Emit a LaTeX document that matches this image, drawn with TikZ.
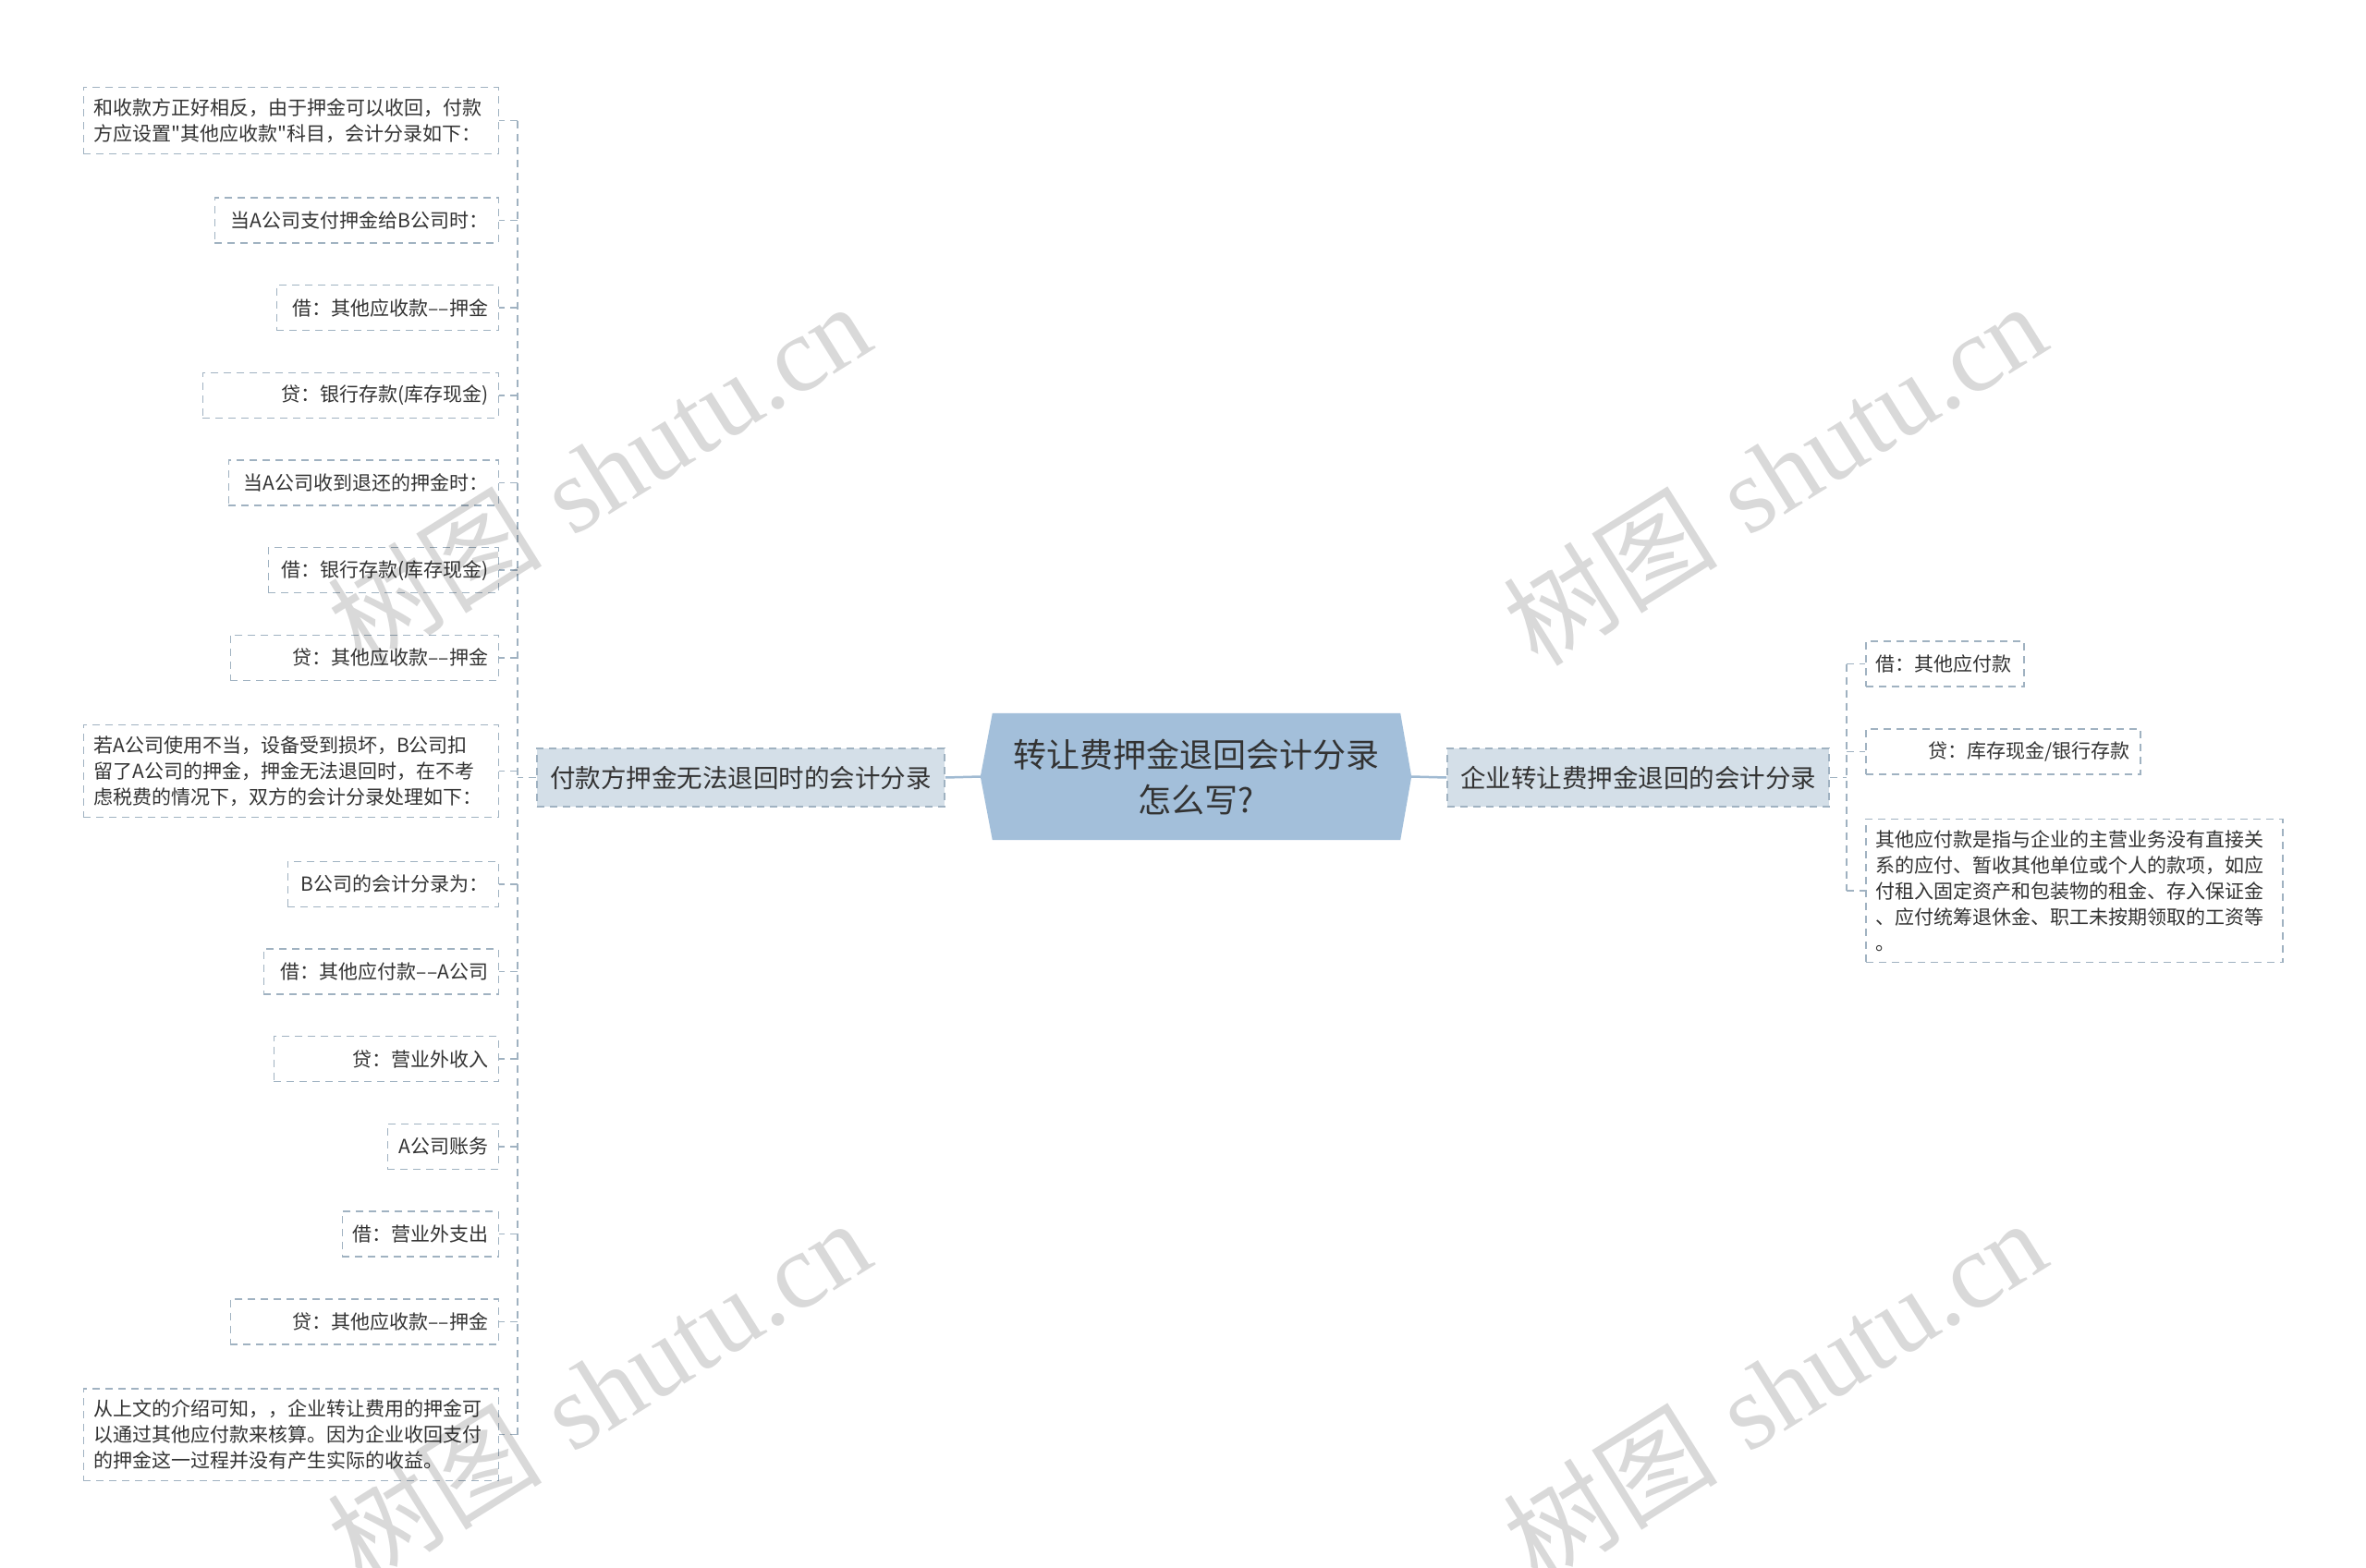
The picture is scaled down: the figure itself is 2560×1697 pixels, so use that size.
\documentclass[tikz,border=0pt]{standalone}
\usepackage{fontspec}
\newfontfamily\cjk{Noto Sans CJK SC}
\newfontfamily\wmserif{Liberation Serif}
\usetikzlibrary{calc}
\definecolor{txt}{HTML}{333333}
\definecolor{centerfill}{HTML}{A3BFDA}
\definecolor{branchfill}{HTML}{D4DFE8}
\definecolor{dashcol}{HTML}{A0B2C1}
\definecolor{solidcol}{HTML}{A0BAD2}
\begin{document}
\begin{tikzpicture}[x=1pt,y=-1pt,
  leaf/.style={draw=dashcol, line width=1.5pt, dash pattern=on 8pt off 6pt, text=txt,
    font=\cjk\fontsize{21}{28}\selectfont, inner xsep=11pt, inner ysep=12pt,
    minimum height=49pt, align=right},
  leafL/.style={leaf, anchor=east},
  leafR/.style={leaf, anchor=west},
  branch/.style={draw=dashcol, fill=branchfill, line width=1.5pt, dash pattern=on 8pt off 6pt,
    text=txt, font=\cjk\fontsize{27.5}{34}\selectfont, minimum height=63pt, inner sep=0pt},
  conn/.style={draw=dashcol, line width=1.5pt, dash pattern=on 8pt off 6pt},
  solidconn/.style={draw=solidcol, line width=2.5pt},
  wm/.style={text=black, opacity=0.15, rotate=32, font=\fontsize{116}{126}\selectfont}
]
\useasboundingbox (0,0) rectangle (2560,1697);
\fill[white] (0,0) rectangle (2560,1697);

% central node
\node[minimum width=441pt, minimum height=137pt, inner sep=0pt] (c) at (1294.5,840.5) {};
\fill[centerfill] (c.north west) -- ($(c.west)+(-13,0)$) -- (c.south west) -- (c.south east)
  -- ($(c.east)+(12,0)$) -- (c.north east) -- cycle;
\node[text=txt, font=\cjk\fontsize{36}{49}\selectfont, align=center, inner sep=0pt] (ct) at (c.center)
  {转让费押金退回会计分录\\怎么写?};

% branches
\node[branch, minimum width=441pt] (lb) at (801.5,841.5) {付款方押金无法退回时的会计分录};
\node[branch, minimum width=413pt] (rb) at (1772.5,841.5) {企业转让费押金退回的会计分录};

\draw[solidconn] ($(c.west)+(-13,0)$) -- (lb.east);
\draw[solidconn] ($(c.east)+(12,0)$) -- (rb.west);

% left leaves
\node[leafL, text width=427pt, align=left] (l1) at (540,130.6) {和收款方正好相反，由于押金可以收回，付款\\方应设置"其他应收款"科目，会计分录如下：};
\node[leafL, text width=285pt] (l2) at (540,238.4) {当A公司支付押金给B公司时：};
\node[leafL, text width=218pt] (l3) at (540,333.1) {借：其他应收款––押金};
\node[leafL, text width=298pt] (l4) at (540,427.8) {贷：银行存款(库存现金)};
\node[leafL, text width=270pt] (l5) at (540,522.5) {当A公司收到退还的押金时：};
\node[leafL, text width=227pt] (l6) at (540,617.2) {借：银行存款(库存现金)};
\node[leafL, text width=268pt] (l7) at (540,711.9) {贷：其他应收款––押金};
\node[leafL, text width=427pt, align=left] (l8) at (540,834.3) {若A公司使用不当，设备受到损坏，B公司扣\\留了A公司的押金，押金无法退回时，在不考\\虑税费的情况下，双方的会计分录处理如下：};
\node[leafL, text width=206pt] (l9) at (540,956.8) {B公司的会计分录为：};
\node[leafL, text width=232pt] (l10) at (540,1051.5) {借：其他应付款––A公司};
\node[leafL, text width=221pt] (l11) at (540,1146.2) {贷：营业外收入};
\node[leafL, text width=98pt] (l12) at (540,1240.9) {A公司账务};
\node[leafL, text width=147pt] (l13) at (540,1335.6) {借：营业外支出};
\node[leafL, text width=268pt] (l14) at (540,1430.3) {贷：其他应收款––押金};
\node[leafL, text width=427pt, align=left] (l15) at (540,1552.7) {从上文的介绍可知，，企业转让费用的押金可\\以通过其他应付款来核算。因为企业收回支付\\的押金这一过程并没有产生实际的收益。};

\coordinate (lt) at (560,841.5);
\draw[conn] (lb.west) -- (lt);
\draw[conn] (lt |- l1.east) -- (lt |- l15.east);
\foreach \i in {1,...,15} {\draw[conn] (lt |- l\i.east) -- (l\i.east);}

% right leaves
\node[leafR, text width=149pt, align=left] (r1) at (2018,718.5) {借：其他应付款};
\node[leafR, text width=275pt] (r2) at (2018,813.5) {贷：库存现金/银行存款};
\node[leafR, text width=429pt, align=left] (r3) at (2018,964) {其他应付款是指与企业的主营业务没有直接关\\系的应付、暂收其他单位或个人的款项，如应\\付租入固定资产和包装物的租金、存入保证金\\、应付统筹退休金、职工未按期领取的工资等\\。};

\coordinate (rt) at (1998,841.5);
\draw[conn] (rb.east) -- (rt);
\draw[conn] (rt |- r1.west) -- (rt |- r3.west);
\foreach \i in {1,2,3} {\draw[conn] (rt |- r\i.west) -- (r\i.west);}

% watermarks
\foreach \p [count=\k] in {(648,512),(1920,512),(648,1504),(1920,1504)} {
  \node[wm] (wm\k) at \p {{\cjk 树图} {\wmserif shutu.cn}};
}
\end{tikzpicture}
\end{document}
